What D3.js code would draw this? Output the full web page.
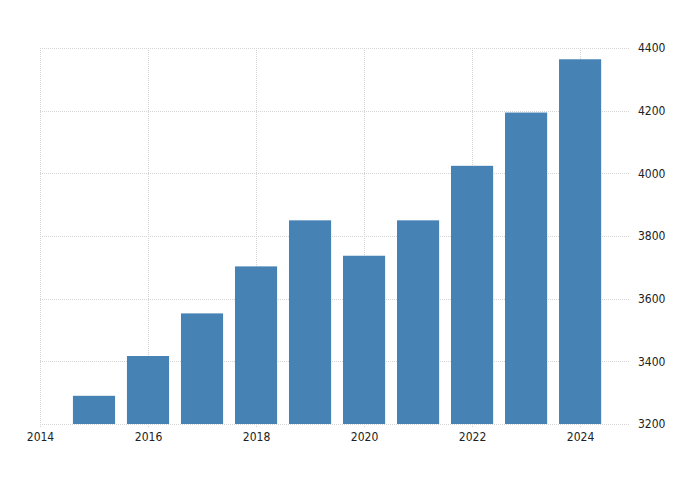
<!DOCTYPE html>
<html><head><meta charset="utf-8">
<script src="https://cdn.jsdelivr.net/npm/d3@7"></script>
<style>body{margin:0;background:#fff}svg{display:block}</style>
</head><body>
<script>
const years = [2015,2016,2017,2018,2019,2020,2021,2022,2023,2024];
const values = [3290,3417,3553,3703,3850,3737,3850,4024,4194,4364];
const xTicks = [2014,2016,2018,2020,2022,2024];
const yTicks = [3200,3400,3600,3800,4000,4200,4400];

const W=700,H=500;
const m={left:40,right:74,top:48,bottom:76};
const svg=d3.select("body").append("svg").attr("width",W).attr("height",H);
const x=d3.scaleLinear().domain([2014,2024.85]).range([m.left,W-m.right]);
const y=d3.scaleLinear().domain([3200,4400]).range([H-m.bottom,m.top]);
const bw=(x(2015)-x(2014))*0.78;

const grid=svg.append("g").attr("stroke","#d4d4d4").attr("stroke-width",1).attr("stroke-dasharray","1,1");
grid.selectAll("line.h").data(yTicks).join("line")
  .attr("x1",m.left).attr("x2",W-m.right+4)
  .attr("y1",d=>Math.round(y(d))+0.5).attr("y2",d=>Math.round(y(d))+0.5);
grid.selectAll("line.v").data(xTicks).join("line")
  .attr("y1",m.top).attr("y2",H-m.bottom+4)
  .attr("x1",d=>Math.round(x(d))+0.5).attr("x2",d=>Math.round(x(d))+0.5);

svg.append("g").selectAll("rect").data(years).join("rect")
  .attr("x",(d)=>x(d)-bw/2).attr("width",bw)
  .attr("y",(d,i)=>y(values[i])).attr("height",(d,i)=>y(3200)-y(values[i]))
  .attr("fill","#4682b4");

const ya=d3.axisRight(y).tickValues(yTicks).tickFormat(d3.format("d")).tickSize(0).tickPadding(10);
svg.append("g").attr("transform",`translate(${W-m.right+2},0)`).call(ya)
  .call(g=>g.select(".domain").remove())
  .selectAll("text").attr("font-family","DejaVu Sans Condensed, DejaVu Sans, sans-serif").attr("font-size",12).attr("fill","#222");

const xa=d3.axisBottom(x).tickValues(xTicks).tickFormat(d3.format("d")).tickSize(0).tickPadding(8);
svg.append("g").attr("transform",`translate(0,${H-m.bottom})`).call(xa)
  .call(g=>g.select(".domain").remove())
  .selectAll("text").attr("font-family","DejaVu Sans Condensed, DejaVu Sans, sans-serif").attr("font-size",12).attr("fill","#222");
</script>
</body></html>
